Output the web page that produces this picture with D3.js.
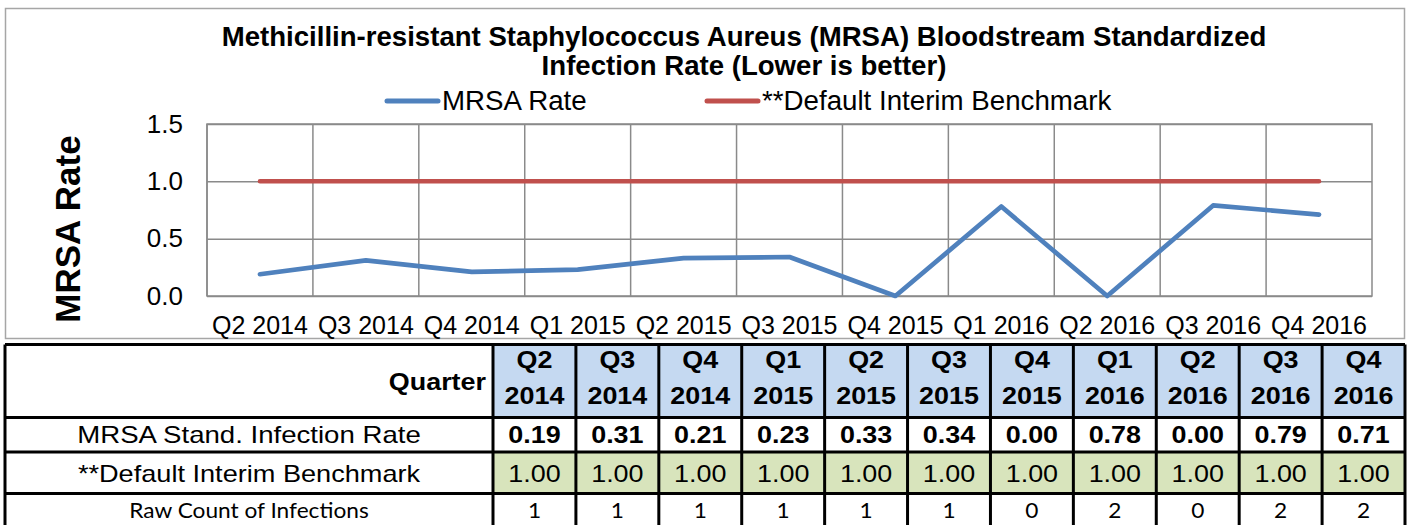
<!DOCTYPE html>
<meta charset="utf-8">

<!-- Load d3.js -->
<script src="https://d3js.org/d3.v7.min.js"></script>

<style>
  body { margin: 0; background: #fff; }
  svg text { fill: #000; }
</style>

<!-- Create a div where the graph will take place -->
<div id="my_dataviz"></div>

<script>

    var quarters = ["Q2 2014", "Q3 2014", "Q4 2014", "Q1 2015", "Q2 2015", "Q3 2015",
                    "Q4 2015", "Q1 2016", "Q2 2016", "Q3 2016", "Q4 2016"];
    var mrsaRate = [0.19, 0.31, 0.21, 0.23, 0.33, 0.34, 0.00, 0.78, 0.00, 0.79, 0.71];
    var benchmark = [1.00, 1.00, 1.00, 1.00, 1.00, 1.00, 1.00, 1.00, 1.00, 1.00, 1.00];
    var rawCount = [1, 1, 1, 1, 1, 1, 0, 2, 0, 2, 2];
    var yTicks = [0, 0.5, 1.0, 1.5];
    var titleLines = ["Methicillin-resistant Staphylococcus Aureus (MRSA) Bloodstream Standardized",
                      "Infection Rate (Lower is better)"];
    var seriesNames = ["MRSA Rate", "**Default Interim Benchmark"];
    var rowLabels = ["Quarter", "MRSA Stand. Infection Rate", "**Default Interim Benchmark", "Raw Count of Infections"];

    var blue = "#4f81bd", red = "#c0504d", grid = "#8a8a8a";
    var arial = "'Liberation Sans', Arial, sans-serif";
    var calibri = "Lato, 'Open Sans', sans-serif";

    var svg = d3.select("#my_dataviz")
      .append("svg")
        .attr("width", 1411)
        .attr("height", 525)
        .style("font-family", arial);

    // ---------- chart ----------
    svg.append("rect")
      .attr("x", 5.5).attr("y", 8.5)
      .attr("width", 1399).attr("height", 330)
      .attr("fill", "#fff")
      .attr("stroke", "#a6a6a6")
      .attr("stroke-width", 1.5);

    var plot = {left: 207, right: 1372, top: 124, bottom: 296};

    var x = d3.scaleBand()
      .domain(quarters)
      .range([plot.left, plot.right]);

    var y = d3.scaleLinear()
      .domain([0, 1.5])
      .range([plot.bottom, plot.top]);

    // horizontal gridlines + y labels
    var yAxis = svg.append("g")
      .attr("transform", "translate(" + plot.left + ",0)")
      .call(d3.axisLeft(y)
        .tickValues(yTicks)
        .tickFormat(d3.format(".1f"))
        .tickSize(-(plot.right - plot.left))
        .tickPadding(24));
    yAxis.select(".domain").remove();
    yAxis.selectAll(".tick line").attr("stroke", grid).attr("stroke-width", 1.5);
    yAxis.selectAll(".tick text")
      .attr("font-size", 26)
      .attr("font-family", arial)
      .attr("fill", "#000");

    // vertical gridlines at category boundaries
    svg.append("g")
      .selectAll("line")
      .data(quarters)
      .enter()
      .append("line")
        .attr("x1", function (d) { return x(d); })
        .attr("x2", function (d) { return x(d); })
        .attr("y1", plot.top)
        .attr("y2", plot.bottom)
        .attr("stroke", grid)
        .attr("stroke-width", 1.5);

    // plot frame
    svg.append("rect")
      .attr("x", plot.left).attr("y", plot.top)
      .attr("width", plot.right - plot.left).attr("height", plot.bottom - plot.top)
      .attr("fill", "none")
      .attr("stroke", grid)
      .attr("stroke-width", 1.5);

    // x labels
    var xAxis = svg.append("g")
      .attr("transform", "translate(0," + plot.bottom + ")")
      .call(d3.axisBottom(x).tickSize(0).tickPadding(20));
    xAxis.select(".domain").remove();
    xAxis.selectAll(".tick text")
      .attr("font-size", 25)
      .attr("font-family", arial)
      .attr("fill", "#000");

    // lines
    var line = d3.line()
      .x(function (d, i) { return x(quarters[i]) + x.bandwidth() / 2; })
      .y(function (d) { return y(d); });

    svg.append("path")
      .datum(benchmark)
      .attr("d", line)
      .attr("fill", "none")
      .attr("stroke", red)
      .attr("stroke-width", 4.5)
      .attr("stroke-linecap", "round");

    svg.append("path")
      .datum(mrsaRate)
      .attr("d", line)
      .attr("fill", "none")
      .attr("stroke", blue)
      .attr("stroke-width", 4.7)
      .attr("stroke-linecap", "round")
      .attr("stroke-linejoin", "round");

    // title
    svg.append("g")
      .selectAll("text")
      .data(titleLines)
      .enter()
      .append("text")
        .attr("x", 744)
        .attr("y", function (d, i) { return 46 + i * 29; })
        .attr("text-anchor", "middle")
        .attr("font-size", 27.6)
        .attr("font-weight", "bold")
        .text(function (d) { return d; });

    // legend
    var legendX = [387, 707];
    var legend = svg.append("g")
      .selectAll("g")
      .data(seriesNames)
      .enter()
      .append("g")
        .attr("transform", function (d, i) { return "translate(" + legendX[i] + ",0)"; });
    legend.append("line")
      .attr("x1", 0).attr("x2", 51)
      .attr("y1", 101).attr("y2", 101)
      .attr("stroke", function (d, i) { return i === 0 ? blue : red; })
      .attr("stroke-width", 5)
      .attr("stroke-linecap", "round");
    legend.append("text")
      .attr("x", 55)
      .attr("y", 110)
      .attr("font-size", 27.7)
      .text(function (d) { return d; });

    // y axis title
    svg.append("text")
      .attr("transform", "translate(80,229) rotate(-90)")
      .attr("text-anchor", "middle")
      .attr("font-size", 35)
      .attr("font-weight", "bold")
      .text("MRSA Rate");

    // ---------- table ----------
    var tLeft = 5, tRight = 1405, labelRight = 493;
    var rowEdges = [344.5, 417.5, 452, 493.5, 530];
    var sx = 1.17;

    var col = d3.scaleBand()
      .domain(quarters)
      .range([labelRight, tRight]);

    var table = svg.append("g");

    // fills
    table.selectAll(".hdr")
      .data(quarters)
      .enter()
      .append("rect")
        .attr("x", function (d) { return col(d); })
        .attr("y", rowEdges[0])
        .attr("width", col.bandwidth())
        .attr("height", rowEdges[1] - rowEdges[0])
        .attr("fill", "#c5d9f1");
    table.selectAll(".bench")
      .data(quarters)
      .enter()
      .append("rect")
        .attr("x", function (d) { return col(d); })
        .attr("y", rowEdges[2])
        .attr("width", col.bandwidth())
        .attr("height", rowEdges[3] - rowEdges[2])
        .attr("fill", "#d8e4bc");

    // grid lines
    table.selectAll(".hline")
      .data(rowEdges)
      .enter()
      .append("line")
        .attr("x1", tLeft).attr("x2", tRight)
        .attr("y1", function (d) { return d; })
        .attr("y2", function (d) { return d; })
        .attr("stroke", "#000")
        .attr("stroke-width", 3);
    var vEdges = [tLeft, labelRight].concat(quarters.slice(1).map(function (q) { return col(q); }), [tRight]);
    table.selectAll(".vline")
      .data(vEdges)
      .enter()
      .append("line")
        .attr("x1", function (d) { return d; })
        .attr("x2", function (d) { return d; })
        .attr("y1", rowEdges[0])
        .attr("y2", 525)
        .attr("stroke", "#000")
        .attr("stroke-width", 3);

    function stretched(g, cx, cy, txt, s) {
      return g.append("text")
        .attr("transform", "translate(" + cx + "," + cy + ") scale(" + (s || sx) + ",1)")
        .attr("text-anchor", "middle")
        .text(txt);
    }

    // row labels
    stretched(table, 486, 390, rowLabels[0])
      .attr("text-anchor", "end")
      .attr("font-size", 23)
      .attr("font-weight", "bold");
    var labelCx = (tLeft + labelRight) / 2;
    stretched(table, labelCx, 443, rowLabels[1], 1.2).attr("font-size", 23);
    stretched(table, labelCx, 482, rowLabels[2], 1.18).attr("font-size", 23);
    stretched(table, labelCx, 518, rowLabels[3], 1.08)
      .style("font-family", calibri)
      .attr("font-size", 21);

    // cells
    quarters.forEach(function (q, i) {
      var cx = col(q) + col.bandwidth() / 2;
      var parts = q.split(" ");
      stretched(table, cx, 368, parts[0]).attr("font-size", 23).attr("font-weight", "bold");
      stretched(table, cx, 404, parts[1]).attr("font-size", 23).attr("font-weight", "bold");
      stretched(table, cx, 443, d3.format(".2f")(mrsaRate[i])).attr("font-size", 23).attr("font-weight", "bold");
      stretched(table, cx, 482, d3.format(".2f")(benchmark[i])).attr("font-size", 23);
      stretched(table, cx, 518, rawCount[i], 1.08)
        .style("font-family", calibri)
        .attr("font-size", 21);
    });

</script>
